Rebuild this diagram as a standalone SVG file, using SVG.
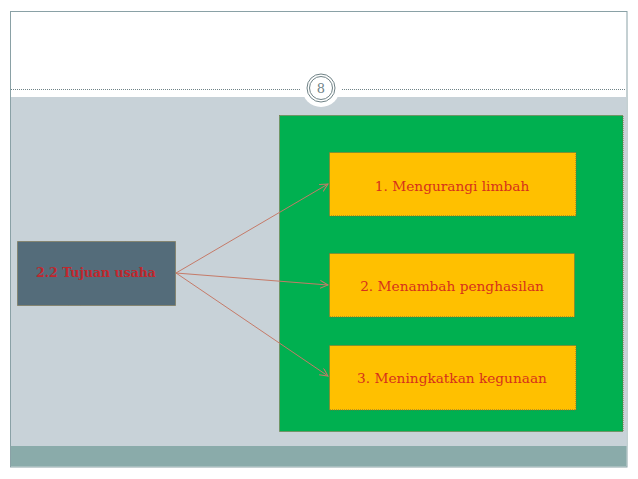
<svg xmlns="http://www.w3.org/2000/svg" width="638" height="479" viewBox="0 0 638 479">
<defs>
<marker id="arr" markerWidth="10" markerHeight="10" refX="8" refY="4" orient="auto" markerUnits="userSpaceOnUse">
<path d="M0,0 L8,4 L0,8" fill="none" stroke="#c57a68" stroke-width="1"/>
</marker>
<style>
.box{stroke:#7a6a3a;stroke-width:1;stroke-dasharray:1 1}
.yt{font-family:"DejaVu Serif","Liberation Serif",serif;font-size:13.7px;fill:#d6311c;text-anchor:middle}
.conn{stroke:#c57a68;stroke-width:1;fill:none}
</style>
</defs>
<rect x="0" y="0" width="638" height="479" fill="#ffffff"/>
<rect x="10.5" y="11.5" width="616.5" height="455.5" fill="#ffffff" stroke="#8aa1a6" stroke-width="1"/>
<rect x="11" y="97" width="615.5" height="349" fill="#c8d2d8"/>
<rect x="11" y="446" width="615.5" height="20.5" fill="#8aabaa"/>
<line x1="11" y1="89.5" x2="300" y2="89.5" stroke="#6f8286" stroke-width="1" stroke-dasharray="1 1"/>
<line x1="342" y1="89.5" x2="626" y2="89.5" stroke="#6f8286" stroke-width="1" stroke-dasharray="1 1"/>
<g id="pagenum">
<circle cx="321" cy="88" r="19" fill="#ffffff"/>
<circle cx="321" cy="88" r="14" fill="#ffffff" stroke="#6f8286" stroke-width="1"/>
<circle cx="321" cy="88" r="11.5" fill="none" stroke="#6f8286" stroke-width="1"/>
<text x="321" y="93" font-family="DejaVu Serif,Liberation Serif,serif" font-size="13" fill="#6f8286" text-anchor="middle">8</text>
</g>
<g id="container">
<rect x="279.5" y="115.5" width="343.5" height="316" fill="#00b050" class="box"/>
</g>
<g id="connectors">
<line class="conn" x1="176" y1="273" x2="328" y2="184" marker-end="url(#arr)"/>
<line class="conn" x1="176" y1="273" x2="328" y2="285" marker-end="url(#arr)"/>
<line class="conn" x1="176" y1="273" x2="328" y2="376" marker-end="url(#arr)"/>
</g>
<g id="source">
<rect x="17.5" y="241.5" width="158" height="64" fill="#546c7a" class="box"/>
<text x="96" y="277" font-family="DejaVu Serif,Liberation Serif,serif" font-size="12.5" font-weight="bold" fill="#c0272d" text-anchor="middle">2.2 Tujuan usaha</text>
</g>
<g id="n1">
<rect x="329.5" y="152.5" width="246.5" height="63.5" fill="#ffc000" class="box"/>
<text class="yt" x="452" y="190.5">1. Mengurangi limbah</text>
</g>
<g id="n2">
<rect x="329.5" y="253.5" width="245" height="63.5" fill="#ffc000" class="box"/>
<text class="yt" x="452" y="290.5">2. Menambah penghasilan</text>
</g>
<g id="n3">
<rect x="329.5" y="345.5" width="246.5" height="64.5" fill="#ffc000" class="box"/>
<text class="yt" x="452" y="382.5">3. Meningkatkan kegunaan</text>
</g>
</svg>
